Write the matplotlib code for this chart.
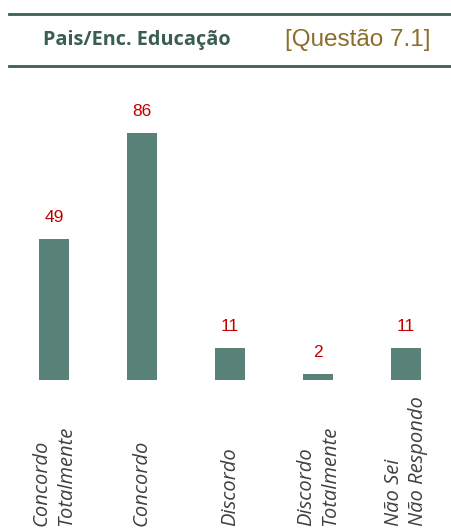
import matplotlib
matplotlib.use("Agg")
import matplotlib.pyplot as plt
from matplotlib.lines import Line2D
import matplotlib.transforms as mtransforms

categories = ["Concordo\nTotalmente", "Concordo", "Discordo", "Discordo\nTotalmente", "Não Sei\nNão Respondo"]
values = [49, 86, 11, 2, 11]
title_left = "Pais/Enc. Educação"
title_right = "[Questão 7.1]"

W, H = 451, 530
fig = plt.figure(figsize=(W / 100, H / 100), dpi=100)

def fx(px):
    return px / W

def fy(py):
    return 1 - py / H

# axes: baseline at y=380, x from 10 to 450
ax_bottom = 380
ymax = 100
px_per_unit = 2.875
ax_top = ax_bottom - ymax * px_per_unit
ax = fig.add_axes([fx(10), fy(ax_bottom), fx(450) - fx(10), (ax_bottom - ax_top) / H])
x = list(range(len(values)))
bars = ax.bar(x, values, width=0.34, color="#588278", edgecolor="#588278", linewidth=0)
ax.set_xlim(-0.5, len(values) - 0.5)
ax.set_ylim(0, ymax)
ax.axis("off")

for xi, v in zip(x, values):
    ax.annotate(str(v), (xi, v), xytext=(0, 14), textcoords="offset pixels",
                ha="center", va="bottom", color="#c00000", fontsize=12.5,
                family="Liberation Sans")

# category labels, rotated, anchored at bottom
trans = mtransforms.blended_transform_factory(ax.transData, fig.transFigure)
for xi, c in zip(x, categories):
    ax.text(xi, fy(526), c, rotation=90, ha="center", va="bottom",
            multialignment="left", transform=trans, fontsize=14.5,
            family="Open Sans", style="italic", color="#404040",
            linespacing=1.3, clip_on=False)

# header
line_color = "#3d5e55"
fig.add_artist(Line2D([fx(9), fx(451)], [fy(13.7), fy(13.7)], color=line_color, linewidth=2.0))
fig.add_artist(Line2D([fx(9), fx(451)], [fy(65.5), fy(65.5)], color=line_color, linewidth=2.0))
fig.text(fx(137), fy(40), title_left, ha="center", va="center", fontsize=14.3,
         fontweight="bold", family="Open Sans", color="#3b5e54")
fig.text(fx(357.5), fy(40), title_right, ha="center", va="center", fontsize=17.5,
         family="Liberation Sans", color="#8b6d2c")

fig.savefig("out.png", dpi=100)
